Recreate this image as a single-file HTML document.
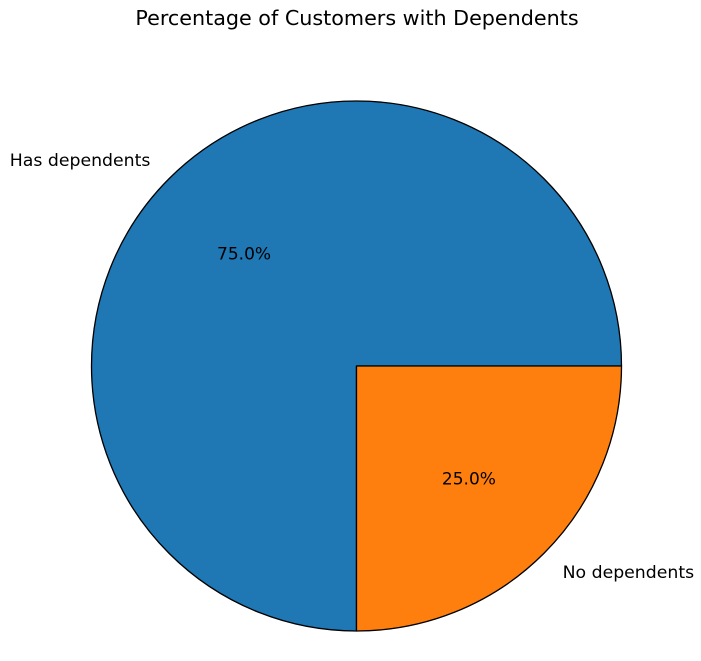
<!DOCTYPE html>
<html><head><meta charset="utf-8"><style>
html,body{margin:0;padding:0;background:#fff;}
svg{display:block;font-family:"DejaVu Sans","Liberation Sans",sans-serif;}
</style></head><body>
<svg id="chart" width="701" height="661" viewBox="0 0 701 661">
<text x="357" y="25" text-anchor="middle" font-size="20.7" fill="#000">Percentage of Customers with Dependents</text>
<g id="slices"></g>
</svg>
<script>
const categories = ["Has dependents", "No dependents"];
const values = [75, 25];
const colors = ["#1f77b4", "#ff7f0e"];
const cx = 356.5, cy = 366, r = 265;
const ns = "http://www.w3.org/2000/svg";
const g = document.getElementById("slices");
const total = values.reduce((a,b)=>a+b,0);
function pt(angDeg, rad){const a=angDeg*Math.PI/180;return [cx+rad*Math.cos(a), cy-rad*Math.sin(a)];}
let start = 0;
values.forEach((v,i)=>{
  const sweep = v/total*360, end = start+sweep;
  const [x1,y1]=pt(start,r),[x2,y2]=pt(end,r);
  const large = sweep>180?1:0;
  const p=document.createElementNS(ns,"path");
  p.setAttribute("d",`M${cx},${cy} L${x1},${y1} A${r},${r} 0 ${large} 0 ${x2},${y2} Z`);
  p.setAttribute("fill",colors[i]);p.setAttribute("stroke","#000");p.setAttribute("stroke-width","1.3");p.setAttribute("stroke-linejoin","round");
  
  
  g.appendChild(p);
  const mid=(start+end)/2;
  const [lx,ly]=pt(mid,r*1.1);
  const t=document.createElementNS(ns,"text");
  t.setAttribute("x",lx);t.setAttribute("y",ly+6);t.setAttribute("font-size","17.3");
  t.setAttribute("text-anchor",Math.cos(mid*Math.PI/180)<0?"end":"start");
  t.textContent=categories[i];
  
  
  g.appendChild(t);
  const [px,py]=pt(mid,r*0.6);
  const q=document.createElementNS(ns,"text");
  q.setAttribute("x",px);q.setAttribute("y",py+6);q.setAttribute("font-size","17");q.setAttribute("text-anchor","middle");
  q.textContent=(v/total*100).toFixed(1)+"%";
  
  
  g.appendChild(q);
  start=end;
});
</script>
</body></html>
